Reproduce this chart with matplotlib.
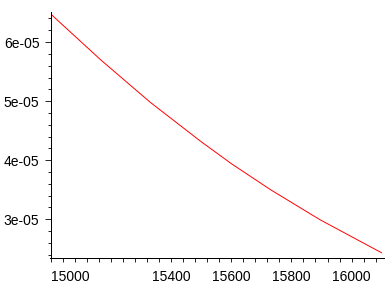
import numpy as np
import matplotlib
matplotlib.use('Agg')
import matplotlib.pyplot as plt
from matplotlib.ticker import FixedLocator, FixedFormatter, MultipleLocator

plt.rcParams['font.family'] = ['Liberation Sans', 'DejaVu Sans']

# values
x_vals = [15000, 15165, 15330, 15500, 15600, 15730, 15895, 16100]
y_vals = [6.47e-05, 5.70e-05, 4.98e-05, 4.31e-05, 3.94e-05, 3.50e-05,
          2.99e-05, 2.43e-05]

x_ticks = [15000, 15200, 15400, 15600, 15800, 16000]
x_labels = ['15000', '', '15400', '15600', '15800', '16000']
y_ticks = [3e-05, 4e-05, 5e-05, 6e-05]
y_labels = ['3e-05', '4e-05', '5e-05', '6e-05']

fig = plt.figure(figsize=(3.88, 2.88), dpi=100)
ax = fig.add_axes([50.5 / 388, 1 - 257.5 / 288,
                   (384 - 50.5) / 388, (257.5 - 12) / 288])

ax.plot(x_vals, y_vals, color='red', lw=0.7)

ax.set_xlim(14998, 16108)
ax.set_ylim(2.35e-05, 6.51e-05)

for side in ('top', 'right'):
    ax.spines[side].set_visible(False)
for side in ('left', 'bottom'):
    ax.spines[side].set_linewidth(0.6)
    ax.spines[side].set_antialiased(False)

ax.xaxis.set_major_locator(FixedLocator(x_ticks))
ax.xaxis.set_major_formatter(FixedFormatter(x_labels))
ax.xaxis.set_minor_locator(MultipleLocator(40))
ax.yaxis.set_major_locator(FixedLocator(y_ticks))
ax.yaxis.set_major_formatter(FixedFormatter(y_labels))
ax.yaxis.set_minor_locator(MultipleLocator(2e-06))

ax.tick_params(which='both', direction='out', width=0.6, labelsize=10)
ax.tick_params(axis='y', which='major', length=4, pad=4)
ax.tick_params(axis='y', which='minor', length=2.5)
ax.tick_params(axis='x', which='major', length=3, pad=6)
ax.tick_params(axis='x', which='minor', length=3)

# first x label sits to the right of the axis corner
ax.get_xticklabels()[0].set_horizontalalignment('left')

fig.savefig('out.png', dpi=100)
